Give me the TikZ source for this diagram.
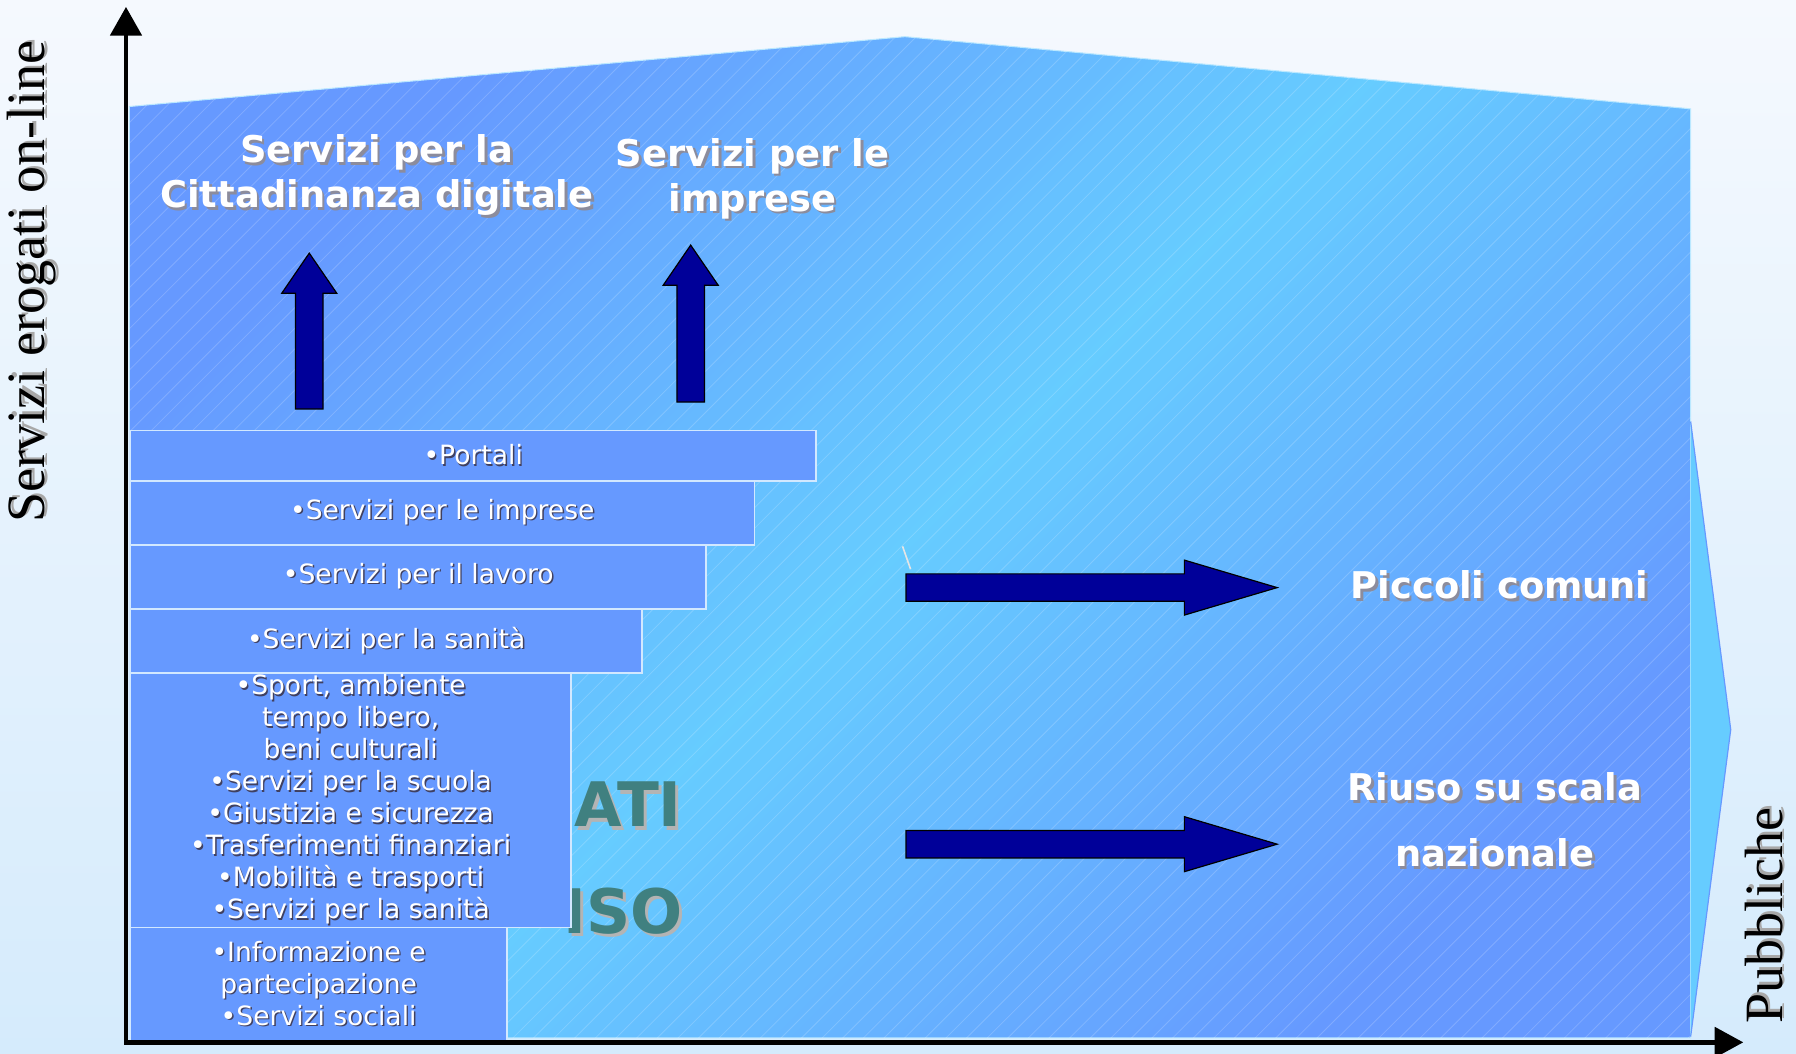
\documentclass[tikz,border=0pt]{standalone}
\usepackage{fontspec}
\setmainfont{DejaVu Sans}
\newfontfamily\axisfont{Liberation Serif}
\usetikzlibrary{arrows.meta}

\definecolor{pagetop}{HTML}{F5F9FE}
\definecolor{pagebot}{HTML}{D5EBFC}
\definecolor{deepblue}{HTML}{6699FF}
\definecolor{skycyan}{HTML}{66CCFF}
\definecolor{tierfill}{HTML}{6699FF}
\definecolor{tierline}{HTML}{D2E8FF}
\definecolor{navy}{HTML}{000099}
\definecolor{tealtext}{HTML}{408080}
\definecolor{ghostshade}{HTML}{B4B4B4}
\definecolor{tiershade}{HTML}{404060}
\definecolor{titleshade}{HTML}{8C8C9C}
\definecolor{axisshade}{HTML}{A8A8A8}

% text with a small drop shadow
\newcommand{\shadowed}[3]{\leavevmode\rlap{\kern#1\raisebox{-#1}{\color{#2}#3}}#3}
\newcommand{\tierline}[1]{\shadowed{0.7pt}{tiershade}{#1}}
\newcommand{\titleline}[1]{\shadowed{1.3pt}{titleshade}{#1}}

\begin{document}
\begin{tikzpicture}[x=0.02cm, y=-0.02cm,
    tier/.style={draw=tierline, line width=0.8pt, fill=tierfill, text=white, align=center,
      anchor=north west, inner sep=0pt, font=\fontsize{13.2}{15.9}\selectfont},
    headtext/.style={text=white, align=center, font=\fontsize{18.3}{22.2}\selectfont\bfseries},
    ghost/.style={text=tealtext, inner sep=0pt, anchor=base west, font=\fontsize{30.5}{36}\selectfont\bfseries},
    blockarrow/.style={fill=navy, draw=black, line width=0.6pt, line join=miter},
    axisline/.style={line width=2.4pt, line join=miter},
    axisname/.style={rotate=90, text=black, font=\axisfont\fontsize{26.8}{30}\selectfont},
    hatch/.style={white, opacity=0.18, line width=0.4pt},
  ]
  \useasboundingbox (0,0) rectangle (1568,920);
  \fill[top color=pagetop, bottom color=pagebot] (0,0) rectangle (1568,920);

  % shaded field
  \path[top color=deepblue, bottom color=deepblue, middle color=skycyan, shading angle=45,
    draw=white!55!skycyan, line width=0.5pt]
    (113,93) -- (790,32) -- (1476,95) -- (1476,906) -- (113,906) -- cycle;
  \begin{scope}
    \clip (113,93) -- (790,32) -- (1476,95) -- (1476,906) -- (113,906) -- cycle;
    \foreach \k in {-780,-762,...,1480}
      \draw[hatch] (\k,910) -- ++(880,-880);
  \end{scope}
  \fill[skycyan] (1476,368) -- (1511,637) -- (1476,905) -- cycle;
  \draw[deepblue, line width=0.6pt] (1476,368) -- (1511,637) -- (1476,905);

  \node[ghost] (ati) at (501,722) {\shadowed{1.5pt}{ghostshade}{ATI}};
  \node[ghost] (iso) at (492,815) {\shadowed{1.5pt}{ghostshade}{ISO}};

  % stacked services
  \node[tier, minimum width=11.98cm, minimum height=0.88cm] (portali) at (113,375) {\tierline{•Portali}};
  \node[tier, minimum width=10.90cm, minimum height=1.12cm] (imprese) at (113,419) {\tierline{•Servizi per le imprese}};
  \node[tier, minimum width=10.06cm, minimum height=1.12cm] (lavoro) at (113,475) {\tierline{•Servizi per il lavoro}};
  \node[tier, minimum width=8.94cm, minimum height=1.12cm] (sanita) at (113,531) {\tierline{•Servizi per la sanità}};
  \node[tier, minimum width=7.70cm, minimum height=4.44cm] (settori) at (113,587)
    {\tierline{•Sport, ambiente}\\\tierline{tempo libero,}\\\tierline{beni culturali}\\
     \tierline{•Servizi per la scuola}\\\tierline{•Giustizia e sicurezza}\\
     \tierline{•Trasferimenti finanziari}\\\tierline{•Mobilità e trasporti}\\
     \tierline{•Servizi per la sanità}};
  \node[tier, minimum width=6.58cm, minimum height=1.98cm] (sociali) at (113,809)
    {\tierline{•Informazione e}\\\tierline{partecipazione}\\\tierline{•Servizi sociali}};

  % block arrows
  \filldraw[blockarrow] (258,357) -- (258,256) -- (246,256) -- (270,221) -- (294,256) -- (282,256) -- (282,357) -- cycle;
  \filldraw[blockarrow] (591,351) -- (591,249) -- (579,249) -- (603,214) -- (627,249) -- (615,249) -- (615,351) -- cycle;
  \filldraw[blockarrow] (791,501) -- (1034,501) -- (1034,489) -- (1115,513) -- (1034,537) -- (1034,525) -- (791,525) -- cycle;
  \filldraw[blockarrow] (791,725) -- (1034,725) -- (1034,713) -- (1115,737) -- (1034,761) -- (1034,749) -- (791,749) -- cycle;
  \draw[white!80!gray, line width=0.8pt] (788,477) -- (795,497);

  \node[headtext] (cittadini) at (329,154) {\titleline{Servizi per la}\\\titleline{Cittadinanza digitale}};
  \node[headtext] (perimprese) at (657,157) {\titleline{Servizi per le}\\\titleline{imprese}};
  \node[headtext] (piccoli) at (1309,512) {\titleline{Piccoli comuni}};
  \node[headtext, font=\fontsize{18.3}{33}\selectfont\bfseries] (riuso) at (1305,717)
    {\titleline{Riuso su scala}\\\titleline{nazionale}};

  % axes
  \coordinate (origin) at (110,910);
  \coordinate (ytip) at (110,6);
  \coordinate (xtip) at (1522,910);
  \draw[axisline, {Triangle[length=0.5cm, width=0.54cm]}-{Triangle[length=0.5cm, width=0.52cm]}]
    (ytip) -- (origin) -- (xtip);
  \node[axisname] (yname) at (29,246) {\shadowed{1.2pt}{axisshade}{Servizi erogati on-line}};
  \node[axisname] (xname) at (1541,799) {\shadowed{1.2pt}{axisshade}{Pubbliche}};
\end{tikzpicture}
\end{document}
